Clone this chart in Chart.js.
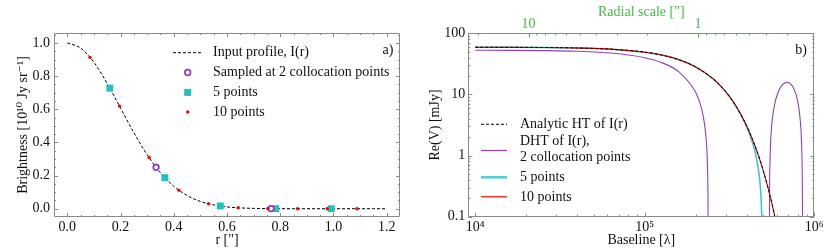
<!DOCTYPE html>
<html><head><meta charset="utf-8">
<script src="https://cdn.jsdelivr.net/npm/chart.js@4.4.1/dist/chart.umd.min.js"></script>
<style>
html,body{margin:0;padding:0;background:#fff;width:831px;height:249px;overflow:hidden}
#cA{position:absolute;left:0;top:0}
#cB{position:absolute;left:415px;top:0}
</style></head><body>
<canvas id="cA" width="415" height="249"></canvas>
<canvas id="cB" width="416" height="249"></canvas>
<script>
// ---------- Panel a) data ----------
const profileR = [0,0.05,0.1,0.15,0.2,0.25,0.3,0.35,0.4,0.45,0.5,0.55,0.6,0.65,0.7,0.75,0.8,0.85,0.9,0.95,1.0,1.05,1.1,1.15,1.2];
const profileI = [1.000,0.969,0.883,0.755,0.607,0.459,0.326,0.217,0.136,0.080,0.044,0.023,0.011,0.005,0.002,0.001,0.0003,0.0001,0,0,0,0,0,0,0];
const r10 = [0.0854,0.1961,0.3075,0.4189,0.5305,0.6420,0.7536,0.8652,0.9768,1.0884];
const I10 = [0.913,0.619,0.309,0.112,0.030,0.006,0.001,0.0001,0,0];
const r5 = [0.1597,0.3666,0.5747,0.7830,0.9915];
const I5 = [0.7275,0.1871,0.0163,0.0005,0];
const r2 = [0.3335,0.7655];
const I2 = [0.2499,0.0007];
const xTicksA = [0,0.2,0.4,0.6,0.8,1.0,1.2];
const yTicksA = [0,0.2,0.4,0.6,0.8,1.0];

// ---------- Panel b) data ----------
const baselineHT = [1e4,1.585e4,2.512e4,3.981e4,6.31e4,1e5,1.259e5,1.585e5,1.995e5,2.512e5,2.818e5,3.162e5,3.548e5,3.981e5,4.467e5,5.012e5,5.623e5,6.31e5];
const visHT = [59.09,58.92,58.51,57.48,54.97,49.15,44.09,37.10,28.23,18.31,13.51,9.22,5.69,3.11,1.448,0.554,0.165,0.036];
const baseline10 = [1e4,1.585e4,2.512e4,3.981e4,6.31e4,1e5,1.259e5,1.585e5,1.995e5,2.512e5,2.818e5,3.162e5,3.548e5,3.981e5,4.467e5,5.012e5,5.623e5,6.31e5];
const vis10 = [59.1,58.9,58.5,57.5,55.0,49.1,44.1,37.1,28.2,18.3,13.5,9.22,5.69,3.11,1.45,0.553,0.165,0.036];
const baseline5 = [1e4,1.585e4,2.512e4,3.981e4,6.31e4,1e5,1.259e5,1.585e5,1.995e5,2.512e5,2.818e5,3.162e5,3.548e5,3.981e5,4.2e5,4.467e5,4.7e5,4.8e5,4.9e5,4.93e5,4.94e5];
const vis5 = [59.2,59.0,58.6,57.5,55.0,49.1,44.1,37.1,28.2,18.3,13.5,9.21,5.66,3.00,2.05,1.17,0.55,0.32,0.094,0.029,0.009];
const baseline2a = [1e4,1.585e4,2.512e4,3.981e4,6.31e4,1e5,1.259e5,1.585e5,1.995e5,2.1e5,2.18e5,2.239e5,2.291e5,2.344e5,2.36e5,2.366e5];
const vis2a = [52.85,52.64,52.11,50.79,47.56,39.94,33.14,23.54,10.88,7.72,5.34,3.63,2.13,0.642,0.198,0.033];
const baseline2b = [5.431e5,5.444e5,5.464e5,5.513e5,5.611e5,5.71e5,5.907e5,6.104e5,6.3e5,6.497e5,6.694e5,6.891e5,7.088e5,7.285e5,7.482e5,7.679e5,7.876e5,8.072e5,8.269e5,8.368e5,8.466e5,8.496e5,8.515e5,8.524e5];
const vis2b = [0.003,0.233,0.59,1.48,3.22,4.90,8.00,10.67,12.83,14.41,15.39,15.74,15.47,14.62,13.22,11.33,9.06,6.48,3.70,2.27,0.834,0.404,0.118,0.003];
const xTicksB = [1e4,1e5,1e6];
const yTicksB = [0.1,1,10,100];
const radialTicks = [1,10];

// ---------- helpers ----------
const pts = (xs, ys) => xs.map((x, i) => ({x: x, y: ys[i]}));
const FONT = '"Liberation Serif","DejaVu Serif",serif';
Chart.defaults.font.family = FONT;
Chart.defaults.font.size = 14;
Chart.defaults.color = '#111';
const SPINE = '#8a8a8a';
const GREEN = '#3fbf3f';
const sup = {'0':'⁰','1':'¹','2':'²','3':'³','4':'⁴','5':'⁵','6':'⁶','7':'⁷','8':'⁸','9':'⁹'};
function linMinor(a, b, step){const o=[];for(let v=a; v<=b+1e-9; v+=step){o.push(+v.toFixed(4));}return o;}
function logMinor(lo, hi){const o=[];for(let e=-3;e<=7;e++){for(let m=2;m<=9;m++){const v=m*Math.pow(10,e); if(v>=lo&&v<=hi)o.push(v);}}return o;}

function tickLines(ctx, scale, vals, len, side, area, color){
  ctx.save(); ctx.strokeStyle = color; ctx.lineWidth = 1; ctx.beginPath();
  vals.forEach(v => {
    const p = scale.getPixelForValue(v);
    if (side === 'bottom' || side === 'top') {
      if (p < area.left - 0.6 || p > area.right + 0.6) return;
      const x = Math.round(p) + 0.5;
      if (side === 'bottom') { ctx.moveTo(x, area.bottom); ctx.lineTo(x, area.bottom - len); }
      else { ctx.moveTo(x, area.top); ctx.lineTo(x, area.top + len); }
    } else {
      if (p < area.top - 0.6 || p > area.bottom + 0.6) return;
      const y = Math.round(p) + 0.5;
      if (side === 'left') { ctx.moveTo(area.left, y); ctx.lineTo(area.left + len, y); }
      else { ctx.moveTo(area.right, y); ctx.lineTo(area.right - len, y); }
    }
  });
  ctx.stroke(); ctx.restore();
}

function frame(ctx, area, topColor){
  ctx.save(); ctx.lineWidth = 1;
  const l = Math.round(area.left)+0.5, r = Math.round(area.right)-0.5, t = Math.round(area.top)+0.5, b = Math.round(area.bottom)-0.5;
  ctx.strokeStyle = SPINE;
  ctx.beginPath(); ctx.moveTo(l, t); ctx.lineTo(l, b); ctx.lineTo(r, b); ctx.lineTo(r, t); ctx.stroke();
  ctx.strokeStyle = topColor || SPINE;
  ctx.beginPath(); ctx.moveTo(l, t); ctx.lineTo(r, t); ctx.stroke();
  ctx.restore();
}

function text(ctx, s, x, y, align, color){
  ctx.save(); ctx.font = '14px ' + FONT; ctx.fillStyle = color || '#111';
  ctx.textAlign = align || 'left'; ctx.textBaseline = 'middle'; ctx.fillText(s, x, y); ctx.restore();
}

// ---------- Panel a) ----------
const plugA = {
  id: 'decorA',
  afterDatasetsDraw(chart){
    const {ctx, chartArea: a, scales: {x, y}} = chart;
    frame(ctx, a);
    const xMin = linMinor(0, 1.2, 0.05), yMin = linMinor(0, 1.05, 0.05);
    ['bottom','top'].forEach(s => { tickLines(ctx, x, xMin, 2, s, a, SPINE); tickLines(ctx, x, xTicksA, 4, s, a, SPINE); });
    ['left','right'].forEach(s => { tickLines(ctx, y, yMin, 2, s, a, SPINE); tickLines(ctx, y, yTicksA, 4, s, a, SPINE); });
  },
  afterDraw(chart){
    const ctx = chart.ctx;
    const rows = [52.7, 72.5, 92.4, 112.0];
    ctx.save();
    ctx.strokeStyle = '#000'; ctx.lineWidth = 1; ctx.setLineDash([3,2]);
    ctx.beginPath(); ctx.moveTo(173, rows[0]); ctx.lineTo(202, rows[0]); ctx.stroke();
    ctx.setLineDash([]);
    ctx.strokeStyle = '#9040c0'; ctx.lineWidth = 1.8;
    ctx.beginPath(); ctx.arc(187.7, rows[1], 2.8, 0, 2*Math.PI); ctx.stroke();
    ctx.fillStyle = '#22c0c0'; ctx.fillRect(184.2, rows[2]-3.5, 7, 7);
    ctx.fillStyle = '#ff0000'; ctx.beginPath(); ctx.arc(187.7, rows[3], 1.7, 0, 2*Math.PI); ctx.fill();
    ctx.restore();
    text(ctx, 'Input profile, I(r)', 213, rows[0]);
    text(ctx, 'Sampled at 2 collocation points', 213, rows[1]);
    text(ctx, '5 points', 213, rows[2]);
    text(ctx, '10 points', 213, rows[3]);
    text(ctx, 'a)', 393.5, 50.7, 'right');
  }
};

new Chart(document.getElementById('cA'), {
  type: 'scatter',
  data: { datasets: [
    { label: '10 points', data: pts(r10, I10), pointStyle: 'circle', pointRadius: 1.7, pointBackgroundColor: '#ff0000', pointBorderWidth: 0, order: 1 },
    { label: 'Sampled at 2 collocation points', data: pts(r2, I2), pointStyle: 'circle', pointRadius: 2.8, pointBorderColor: '#9040c0', pointBorderWidth: 1.8, pointBackgroundColor: 'rgba(255,255,255,0.9)', order: 2 },
    { label: '5 points', data: pts(r5, I5), pointStyle: 'rect', pointRadius: 4.9, pointBackgroundColor: '#22c0c0', pointBorderWidth: 0, order: 3 },
    { label: 'Input profile, I(r)', data: pts(profileR, profileI), showLine: true, pointRadius: 0, borderColor: '#000', borderWidth: 1, borderDash: [3,2], cubicInterpolationMode: 'monotone', order: 4 }
  ]},
  options: {
    responsive: false, animation: false, devicePixelRatio: 1,
    layout: { padding: { top: 33, right: 15, left: 0, bottom: 0 } },
    plugins: { legend: { display: false }, tooltip: { enabled: false } },
    scales: {
      x: { type: 'linear', min: -0.05, max: 1.25,
        afterBuildTicks: s => { s.ticks = xTicksA.map(v => ({value: v})); },
        afterFit: s => { s.height = 32; },
        grid: { display: false, drawTicks: false }, border: { display: false },
        ticks: { padding: 2.3, autoSkip: false, maxRotation: 0, callback: v => Number(v).toFixed(1) },
        title: { display: true, text: 'r ["]', padding: { top: 0, bottom: 0.6 } } },
      y: { type: 'linear', min: -0.05, max: 1.06,
        afterBuildTicks: s => { s.ticks = yTicksA.map(v => ({value: v})); },
        afterFit: s => { s.width = 54; },
        grid: { display: false, drawTicks: false }, border: { display: false },
        ticks: { padding: 4, autoSkip: false, callback: v => Number(v).toFixed(1) },
        title: { display: true, text: 'Brightness [10¹⁰ Jy sr⁻¹]', padding: { top: 14.6, bottom: 0 } } }
    }
  },
  plugins: [plugA]
});

// ---------- Panel b) ----------
const plugB = {
  id: 'decorB',
  afterDatasetsDraw(chart){
    const {ctx, chartArea: a, scales: {x, y, x2}} = chart;
    frame(ctx, a, GREEN);
    const xm = logMinor(9000, 1e6), ym = logMinor(0.1, 100), rm = logMinor(0.2, 23);
    tickLines(ctx, x, xm, 2, 'bottom', a, SPINE); tickLines(ctx, x, xTicksB, 4, 'bottom', a, SPINE);
    ['left','right'].forEach(s => { tickLines(ctx, y, ym, 2, s, a, SPINE); tickLines(ctx, y, yTicksB, 4, s, a, SPINE); });
    tickLines(ctx, x2, rm, 2, 'top', a, GREEN); tickLines(ctx, x2, radialTicks, 4, 'top', a, GREEN);
  },
  afterDraw(chart){
    const ctx = chart.ctx;
    ctx.save();
    ctx.strokeStyle = '#000'; ctx.lineWidth = 1; ctx.setLineDash([3,2]);
    ctx.beginPath(); ctx.moveTo(66, 124.3); ctx.lineTo(92, 124.3); ctx.stroke();
    ctx.setLineDash([]);
    ctx.strokeStyle = '#9040c0'; ctx.lineWidth = 1.2;
    ctx.beginPath(); ctx.moveTo(66, 150.5); ctx.lineTo(92, 150.5); ctx.stroke();
    ctx.strokeStyle = '#50d0d0'; ctx.lineWidth = 2.6;
    ctx.beginPath(); ctx.moveTo(66, 177.3); ctx.lineTo(92, 177.3); ctx.stroke();
    ctx.strokeStyle = '#ff0000'; ctx.lineWidth = 1.2;
    ctx.beginPath(); ctx.moveTo(66, 196.8); ctx.lineTo(92, 196.8); ctx.stroke();
    ctx.restore();
    text(ctx, 'Analytic HT of I(r)', 105, 124.5);
    text(ctx, 'DHT of I(r),', 105, 141.5);
    text(ctx, '2 collocation points', 105, 157.5);
    text(ctx, '5 points', 105, 177.5);
    text(ctx, '10 points', 105, 197.2);
    text(ctx, 'b)', 392, 50.7, 'right');
  }
};

const lineDs = (label, xs, ys, color, w, order, dash) => ({
  label: label, data: pts(xs, ys), showLine: true, pointRadius: 0, borderColor: color, borderWidth: w,
  borderDash: dash || [], cubicInterpolationMode: 'monotone', order: order
});

new Chart(document.getElementById('cB'), {
  type: 'scatter',
  data: { datasets: [
    lineDs('Analytic HT of I(r)', baselineHT, visHT, '#000', 1, 1, [3,2]),
    lineDs('10 points', baseline10, vis10, '#ff0000', 1.1, 2),
    lineDs('5 points', baseline5, vis5, '#30c8c8', 1.5, 3),
    lineDs('DHT of I(r), 2 collocation points', baseline2a, vis2a, '#9040c0', 1.1, 4),
    lineDs('DHT of I(r), 2 collocation points (lobe)', baseline2b, vis2b, '#9040c0', 1.1, 5)
  ]},
  options: {
    responsive: false, animation: false, devicePixelRatio: 1,
    layout: { padding: { top: 0, right: 16.7, left: 0, bottom: 0 } },
    plugins: { legend: { display: false }, tooltip: { enabled: false } },
    scales: {
      x: { type: 'logarithmic', position: 'bottom', min: 9100, max: 1e6,
        afterBuildTicks: s => { s.ticks = xTicksB.map(v => ({value: v})); },
        afterFit: s => { s.height = 32.3; },
        grid: { display: false, drawTicks: false }, border: { display: false },
        ticks: { padding: 2.3, autoSkip: false, maxRotation: 0,
          callback: v => '10' + String(Math.round(Math.log10(v))).split('').map(c => sup[c]).join('') },
        title: { display: true, text: 'Baseline [λ]', padding: { top: 0, bottom: 0.6 } } },
      x2: { type: 'logarithmic', position: 'top', axis: 'x', reverse: true, min: 206265/1e6, max: 206265/9100,
        afterBuildTicks: s => { s.ticks = radialTicks.map(v => ({value: v})); },
        afterFit: s => { s.height = 33.3; },
        grid: { display: false, drawTicks: false }, border: { display: false },
        ticks: { padding: 1, autoSkip: false, maxRotation: 0, color: GREEN, callback: v => String(v) },
        title: { display: true, text: 'Radial scale ["]', color: GREEN, padding: { top: 3.6, bottom: 0 } } },
      y: { type: 'logarithmic', min: 0.1, max: 100,
        afterBuildTicks: s => { s.ticks = yTicksB.map(v => ({value: v})); },
        afterFit: s => { s.width = 53.3; },
        grid: { display: false, drawTicks: false }, border: { display: false },
        ticks: { padding: 3, autoSkip: false, callback: v => String(v) },
        title: { display: true, text: 'Re(V) [mJy]', padding: { top: 11.6, bottom: 0 } } }
    }
  },
  plugins: [plugB]
});
</script>
</body></html>
